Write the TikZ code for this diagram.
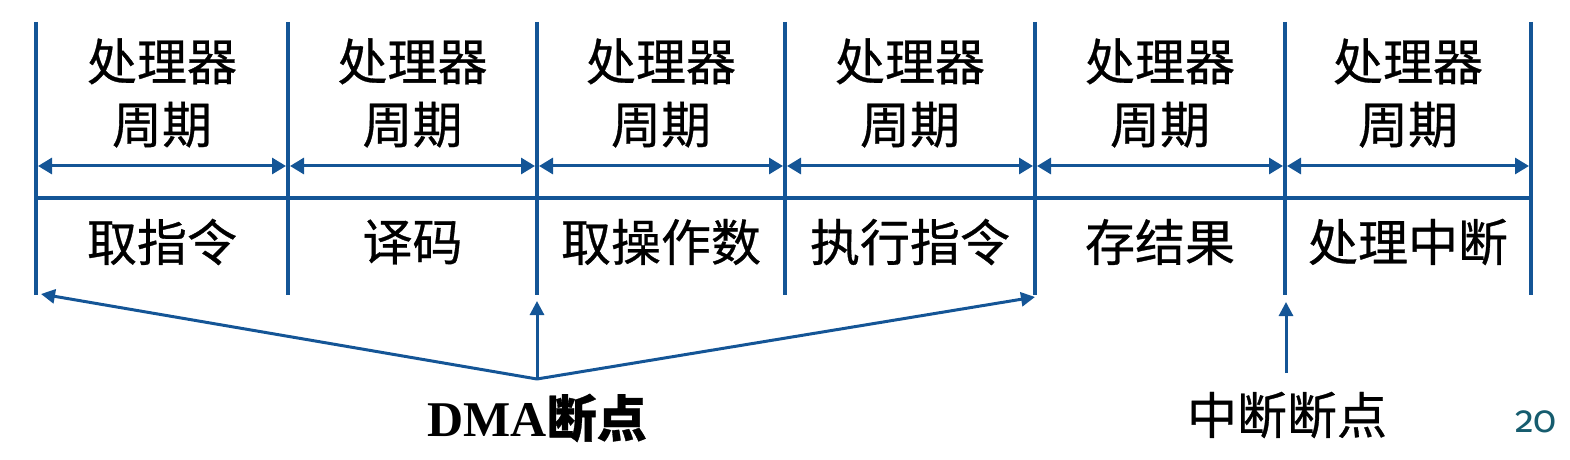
\documentclass[tikz,border=0pt]{standalone}
\usepackage{fontspec}
\newfontfamily\cjk[FakeBold=0.6]{Noto Sans CJK SC}
\newfontfamily\timesfont{Liberation Serif}
\newfontfamily\pgfont[Numbers=OldStyle]{Fira Sans}
\usetikzlibrary{arrows.meta}
\definecolor{lineblue}{RGB}{20,85,150}
\definecolor{pageteal}{RGB}{22,92,110}
\tikzset{
  vline/.style={draw=lineblue, line width=2pt},
  dimarrow/.style={draw=lineblue, line width=1.5pt, shorten <=1pt, shorten >=1pt,
    {Triangle[length=7pt,width=8pt]}-{Triangle[length=7pt,width=8pt]}},
  ptr/.style={draw=lineblue, line width=1.5pt, -{Triangle[length=7pt,width=7pt]}},
  celltext/.style={font=\cjk\fontsize{25}{31.5}\selectfont, align=center, inner sep=0pt, text=black},
  label/.style={font=\fontsize{25}{30}\selectfont, inner sep=0pt, text=black},
}
\begin{document}
\begin{tikzpicture}[x=0.5pt,y=-0.5pt]
\useasboundingbox (0,0) rectangle (1570,460);
% grid coordinates
\foreach \n/\x in {0/36,1/288,2/537,3/785,4/1035,5/1285,6/1531} {
  \coordinate (t\n) at (\x,22);
  \coordinate (b\n) at (\x,295);
  \coordinate (m\n) at (\x,198);
  \coordinate (a\n) at (\x,166);
}
\foreach \n in {0,...,6} \draw[vline] (t\n) -- (b\n);
\draw[vline] (m0) -- (m6);
\foreach \n/\k in {0/1,1/2,2/3,3/4,4/5,5/6} \draw[dimarrow] (a\n) -- (a\k);
% cell texts
\foreach \i/\x/\s in {1/162/取指令,2/412.5/译码,3/661/取操作数,4/910/执行指令,5/1160/存结果,6/1408/处理中断} {
  \node[celltext] (c\i) at (\x,93) {处理器\\周期};
  \node[celltext] (s\i) at (\x,242) {\s};
}
% DMA breakpoints
\coordinate (dmaapex) at (537,379);
\coordinate (dmaL) at (41,294);
\coordinate (dmaM) at (537,301);
\coordinate (dmaR) at (1035,297);
\draw[ptr] (dmaapex) -- (dmaL);
\draw[ptr] (dmaapex) -- (dmaM);
\draw[ptr] (dmaapex) -- (dmaR);
\node[label] (dma) at (537,418) {\timesfont\bfseries DMA\cjk 断点};
% interrupt breakpoint
\coordinate (inttail) at (1286,373);
\coordinate (inttip) at (1286,302);
\draw[ptr] (inttail) -- (inttip);
\node[label] (int) at (1287,415) {\cjk 中断断点};
% page number
\node[inner sep=0pt, text=pageteal, anchor=base] (pg) at (1536,432) {\pgfont\fontsize{19}{23}\selectfont 20};
\end{tikzpicture}
\end{document}
